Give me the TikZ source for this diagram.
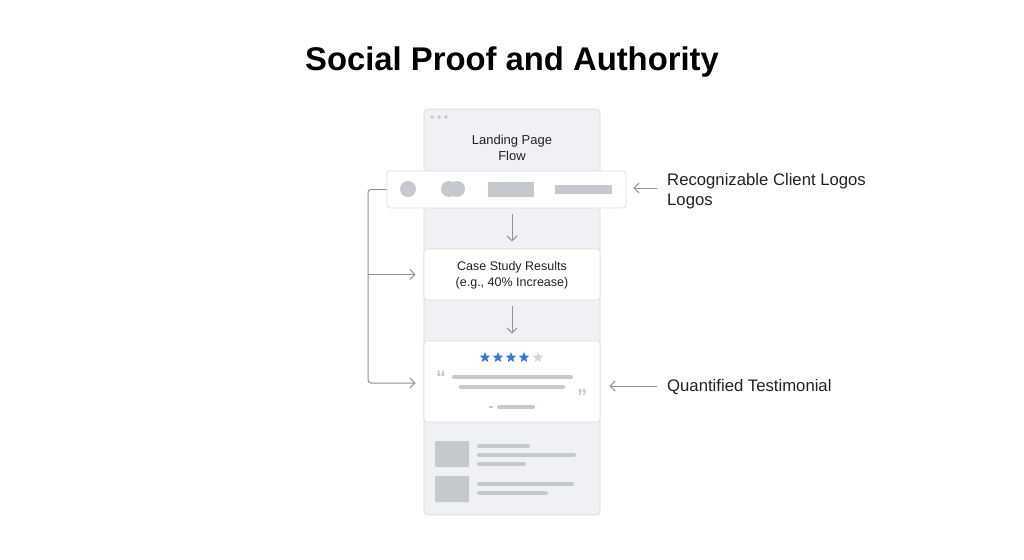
\documentclass[tikz,border=0pt]{standalone}
\usepackage{fontspec}
\setmainfont{Liberation Sans}
\usetikzlibrary{shapes.geometric,arrows.meta}
\definecolor{pagefill}{HTML}{EFF1F4}
\definecolor{pageedge}{HTML}{D9DCE0}
\definecolor{boxedge}{HTML}{DADDE1}
\definecolor{ph}{HTML}{C5C8CD}
\definecolor{arr}{HTML}{8E9399}
\definecolor{txt}{HTML}{222222}
\definecolor{starblue}{HTML}{3B76D6}
\definecolor{stargray}{HTML}{D3D5D8}
\tikzset{
  pagebox/.style={draw=pageedge, fill=pagefill, rounded corners=4pt, line width=0.8pt, inner sep=0pt},
  cardbox/.style={draw=boxedge, fill=white, rounded corners=3pt, line width=0.8pt, inner sep=0pt},
  phline/.style={draw=ph, line width=4pt, line cap=round},
  phfill/.style={fill=ph, draw=none},
  conn/.style={draw=arr, line width=1pt, -{Straight Barb[length=5pt,width=10pt]}},
  label/.style={font=\fontsize{16.7}{19.5}\selectfont, text=txt, anchor=west, align=left, inner sep=0pt},
  cardtext/.style={font=\fontsize{12.5}{16}\selectfont, text=txt, align=center, inner sep=0pt},
  starshape/.style={star, star points=5, star point ratio=2.3, minimum size=11pt, inner sep=0pt, draw=none},
}
\begin{document}
\begin{tikzpicture}[x=1pt,y=-1pt]
\useasboundingbox[fill=white] (0,0) rectangle (1024,559);
% title
\node[font=\fontsize{32.8}{38}\selectfont\bfseries, text=black, inner sep=0pt] (title) at (512,62) {Social Proof and Authority};
% page frame
\node[pagebox, minimum width=176pt, minimum height=406pt] (page) at (512,312) {};
\foreach \i/\xx in {1/432,2/439,3/446} \fill[ph] (\xx,117) circle (1.8pt);
\node[font=\fontsize{13}{16}\selectfont, text=txt, align=center, inner sep=0pt] (pagetitle) at (512,148) {Landing Page\\Flow};
% logos card
\node[cardbox, minimum width=239pt, minimum height=37pt] (logos) at (506.5,189.5) {};
\fill[ph] (408,189) circle (8pt);
\fill[ph] (449,189) circle (8pt);
\fill[ph] (457,189) circle (8pt);
\fill[ph] (488,182) rectangle (534,197);
\fill[ph] (555,185) rectangle (612,194);
% case card
\node[cardbox, minimum width=176pt, minimum height=51pt] (case) at (512,274.5) {};
\node[cardtext] (casetext) at (512,275) {Case Study Results\\(e.g., 40\% Increase)};
% testimonial card
\node[cardbox, minimum width=176pt, minimum height=81pt] (testi) at (512,381.5) {};
\foreach \xx in {485,498,511,524} \node[starshape, fill=starblue] at (\xx,357.5) {};
\node[starshape, fill=stargray] (laststar) at (538,357.5) {};
\node[text=ph, font=\fontsize{20}{20}\selectfont\bfseries, inner sep=0pt] (oq) at (441,378) {“};
\node[text=ph, font=\fontsize{20}{20}\selectfont\bfseries, inner sep=0pt] (cq) at (582,397) {”};
\draw[phline] (454,377) -- (571,377);
\draw[phline] (461,387) -- (563,387);
\draw[draw=ph, line width=1.5pt] (489,407) -- (493,407);
\draw[phline] (499,407) -- (533,407);
% bottom placeholders
\fill[ph, rounded corners=1pt] (435,441) rectangle (469,467);
\fill[ph, rounded corners=1pt] (435,476) rectangle (469,502);
\draw[phline] (479,446) -- (528,446);
\draw[phline] (479,455) -- (574,455);
\draw[phline] (479,464) -- (524,464);
\draw[phline] (479,484) -- (572,484);
\draw[phline] (479,493) -- (546,493);
% vertical arrows
\draw[conn] ([yshift=-6pt]logos.south -| page.center) -- ([yshift=7pt]case.north);
\draw[conn] ([yshift=-6pt]case.south) -- ([yshift=7pt]testi.north);
% left bracket
\coordinate (brk) at (368,189.5);
\draw[conn, rounded corners=3pt] (logos.west) -- (brk) -- (brk |- 0,383) -- ([xshift=-8pt]testi.west |- 0,383);
\draw[conn] (brk |- case.west) -- ([xshift=-8pt]case.west);
% right labels
\node[label] (lab1) at (667,191) {Recognizable Client Logos\\Logos};
\node[label] (lab2) at (667,387.5) {Quantified Testimonial};
\draw[conn] ([xshift=-10pt]lab1.west |- 0,188) -- ([xshift=7pt]logos.east |- 0,188);
\draw[conn] ([xshift=-10pt]lab2.west |- 0,386) -- ([xshift=9pt]testi.east |- 0,386);
\end{tikzpicture}
\end{document}
